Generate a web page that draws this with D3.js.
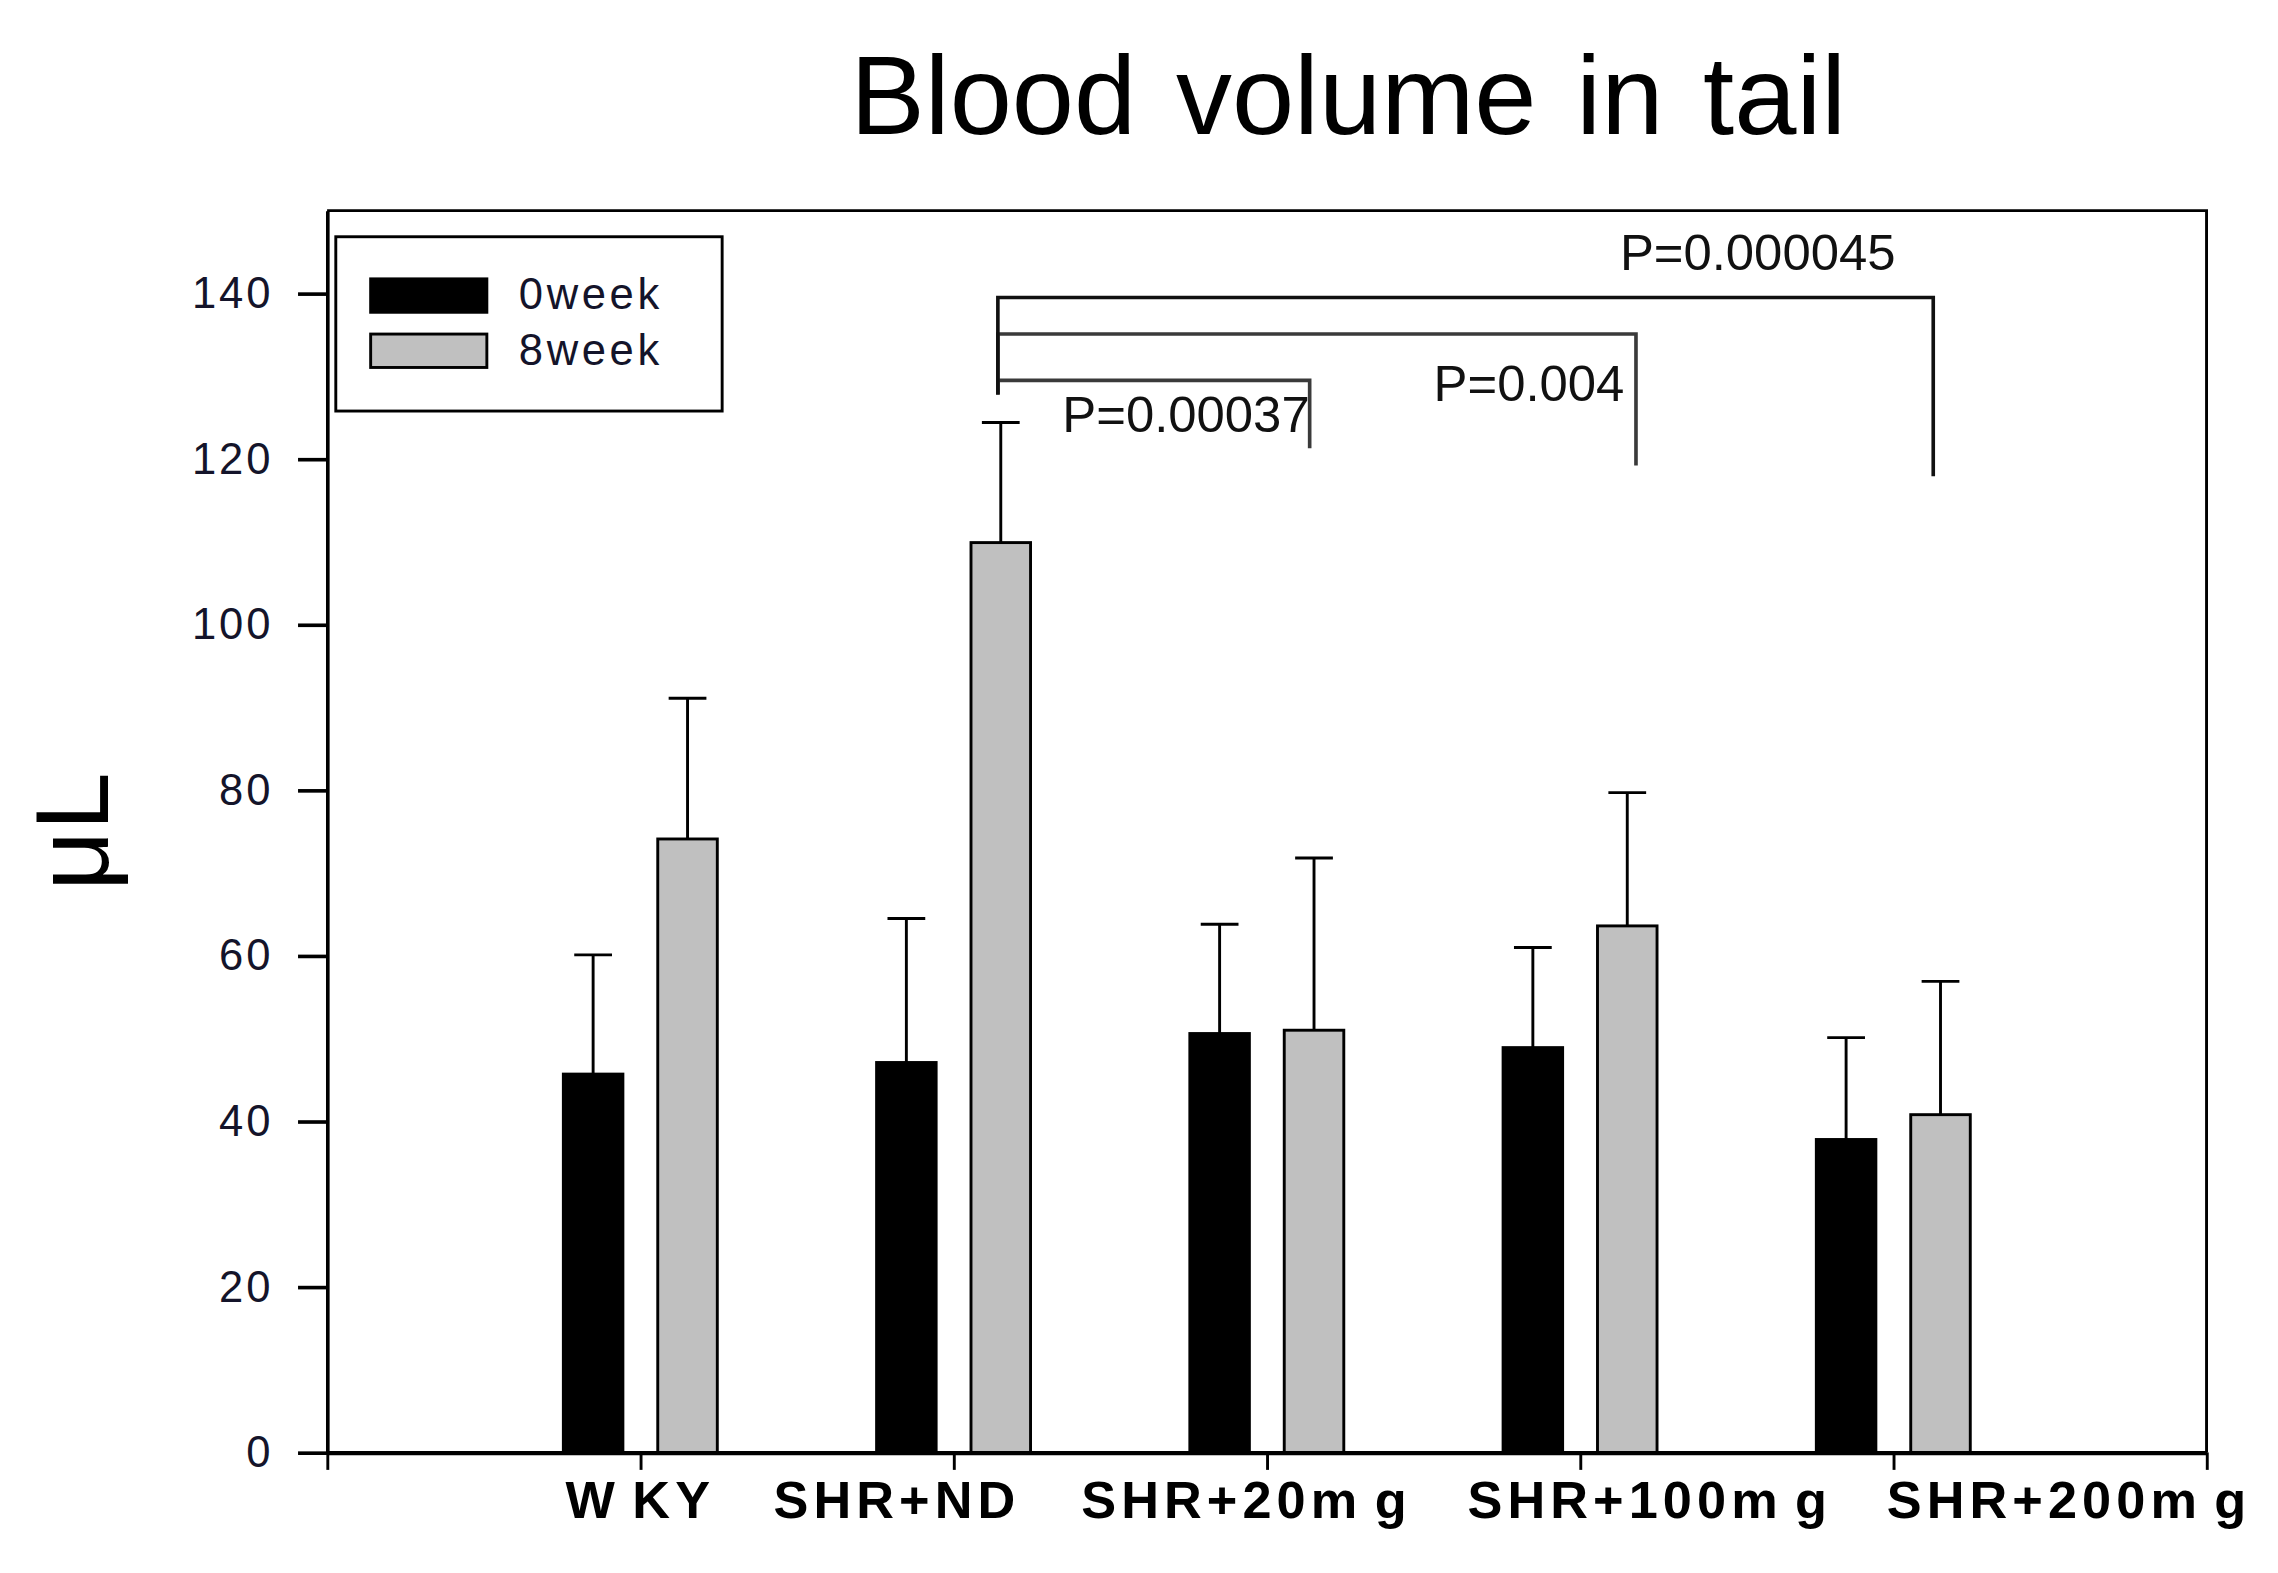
<!DOCTYPE html>
<html>
<head>
<meta charset="utf-8">
<script src="https://cdn.jsdelivr.net/npm/d3@7"></script>
<style>
  body { margin: 0; background: #fff; }
  text { font-family: "Liberation Sans", Arial, sans-serif; }
</style>
</head>
<body>
<div id="chart"></div>
<script>
// data
var categories = ["W KY", "SHR+ND", "SHR+20m g", "SHR+100m g", "SHR+200m g"];
var series = ["0week", "8week"];
var week0 = [45.7, 47.1, 50.6, 48.9, 37.8];
var week8 = [74.1, 109.9, 51.0, 63.6, 40.8];
var err0 = [14.4, 17.4, 13.2, 12.1, 12.3];
var err8 = [17.0, 14.5, 20.8, 16.1, 16.1];
var yTicks = [0, 20, 40, 60, 80, 100, 120, 140];

// significance brackets, all from SHR+ND 8week
var compFrom = "SHR+ND";
var compTo = ["SHR+20m g", "SHR+100m g", "SHR+200m g"];
var compP = ["P=0.00037", "P=0.004", "P=0.000045"];
var compLevel = [129.5, 135.1, 139.5];
var compDrop = [121.3, 119.2, 117.9];
var compLabel = [123.2, 127.0, 142.8];

// layout (in reference pixel units, scaled by viewBox)
var W = 1568, H = 1083;
var plot = {left: 225, right: 1519, top: 145, bottom: 1000};
var barW = 41, barOff = 32.5;
var labelDx = [0, -39, -14, 48, 121];
var legDx = [0, 9, -2];

var svg = d3.select("#chart")
    .append("svg")
    .attr("width", 2278)
    .attr("height", 1573)
    .attr("viewBox", `0 0 ${W} ${H}`);

var x = d3.scaleLinear()
    .domain([0, categories.length + 1])
    .range([plot.left, plot.right]);
var y = d3.scaleLinear()
    .domain([0, 150])
    .range([plot.bottom, plot.top]);

var rows = categories.map((c, i) => ({
    cat: c, i: i,
    vals: [week0[i], week8[i]],
    errs: [err0[i], err8[i]]
}));

// title
svg.append("text")
    .attr("x", 928)
    .attr("y", 92)
    .attr("text-anchor", "middle")
    .style("font-size", "77px")
    .style("word-spacing", "6px")
    .text("Blood volume in tail");

// frame top and right
svg.append("path")
    .attr("d", `M${plot.left},${plot.top}H${plot.right}V${plot.bottom}`)
    .attr("fill", "none")
    .attr("stroke", "#000")
    .attr("stroke-width", 2);

// bars
var colors = ["#000", "#c0c0c0"];
var g = svg.selectAll("g.grp")
    .data(rows)
    .enter()
    .append("g");

series.forEach((s, k) => {
    var cx = d => x(d.i + 1) + (k === 0 ? -barOff : barOff);
    g.append("rect")
        .attr("x", d => cx(d) - barW / 2)
        .attr("y", d => y(d.vals[k]))
        .attr("width", barW)
        .attr("height", d => y(0) - y(d.vals[k]))
        .attr("fill", colors[k])
        .attr("stroke", "#000")
        .attr("stroke-width", 2);
    // error bars
    g.append("line")
        .attr("x1", cx).attr("x2", cx)
        .attr("y1", d => y(d.vals[k]))
        .attr("y2", d => y(d.vals[k] + d.errs[k]))
        .attr("stroke", "#000")
        .attr("stroke-width", 2);
    g.append("line")
        .attr("x1", d => cx(d) - 13).attr("x2", d => cx(d) + 13)
        .attr("y1", d => y(d.vals[k] + d.errs[k]))
        .attr("y2", d => y(d.vals[k] + d.errs[k]))
        .attr("stroke", "#000")
        .attr("stroke-width", 2);
});

// Y axis
var yAxis = svg.append("g")
    .attr("transform", `translate(${plot.left},0)`)
    .call(d3.axisLeft(y).tickValues(yTicks).tickSize(20).tickPadding(17).tickSizeOuter(0));
yAxis.select(".domain").attr("stroke-width", 2.5);
yAxis.selectAll(".tick line").attr("stroke-width", 2.5);
yAxis.selectAll(".tick text")
    .attr("font-family", "Liberation Sans, Arial, sans-serif")
    .style("font-size", "30px")
    .style("letter-spacing", "2px")
    .attr("fill", "#14142a");

// X axis
var xAxis = svg.append("g")
    .attr("transform", `translate(0,${plot.bottom})`)
    .call(d3.axisBottom(x)
        .tickValues(d3.range(0, categories.length + 2))
        .tickSize(12)
        .tickSizeOuter(0)
        .tickFormat(""));
xAxis.select(".domain").attr("stroke-width", 3);
xAxis.selectAll(".tick line").attr("stroke-width", 2);

// category labels
svg.selectAll("text.cat")
    .data(rows)
    .enter()
    .append("text")
    .attr("class", "cat")
    .attr("x", d => x(d.i + 1) + labelDx[d.i])
    .attr("y", 1045)
    .attr("text-anchor", "middle")
    .style("font-size", "36px")
    .style("font-weight", "bold")
    .style("letter-spacing", "3.5px")
    .style("word-spacing", "-5px")
    .style("white-space", "pre")
    .text(d => d.cat);

// Y label
svg.append("text")
    .attr("transform", `translate(74,${(plot.top + plot.bottom) / 2}) rotate(-90)`)
    .attr("text-anchor", "middle")
    .style("font-size", "72px")
    .text("\u03bcL");

// significance brackets
var fromX = x(categories.indexOf(compFrom) + 1) + barOff - 2;
compTo.forEach((c, j) => {
    var toX = x(categories.indexOf(c) + 1) + barOff - 3 + legDx[j];
    svg.append("path")
        .attr("d", `M${fromX},${y(127.8)}V${y(compLevel[j])}H${toX}V${y(compDrop[j])}`)
        .attr("fill", "none")
        .attr("stroke", j === 2 ? "#111" : "#3a3a3a")
        .attr("stroke-width", 2.5);
    svg.append("text")
        .attr("x", toX - [0, 8, 26][j])
        .attr("y", y(compLabel[j]))
        .attr("text-anchor", "end")
        .style("font-size", "35px")
        .attr("fill", "#111")
        .text(compP[j]);
});

// legend
var leg = svg.append("g").attr("transform", "translate(231,163)");
leg.append("rect")
    .attr("width", 266).attr("height", 120)
    .attr("fill", "#fff").attr("stroke", "#000").attr("stroke-width", 2);
series.forEach((s, k) => {
    leg.append("rect")
        .attr("x", 24).attr("y", 29 + k * 38)
        .attr("width", 80).attr("height", 23)
        .attr("fill", colors[k]).attr("stroke", "#000").attr("stroke-width", 2);
    leg.append("text")
        .attr("x", 126).attr("y", 50 + k * 38)
        .style("font-size", "30px")
        .style("letter-spacing", "2.5px")
        .attr("fill", "#14142a")
        .text(s);
});
</script>
</body>
</html>
